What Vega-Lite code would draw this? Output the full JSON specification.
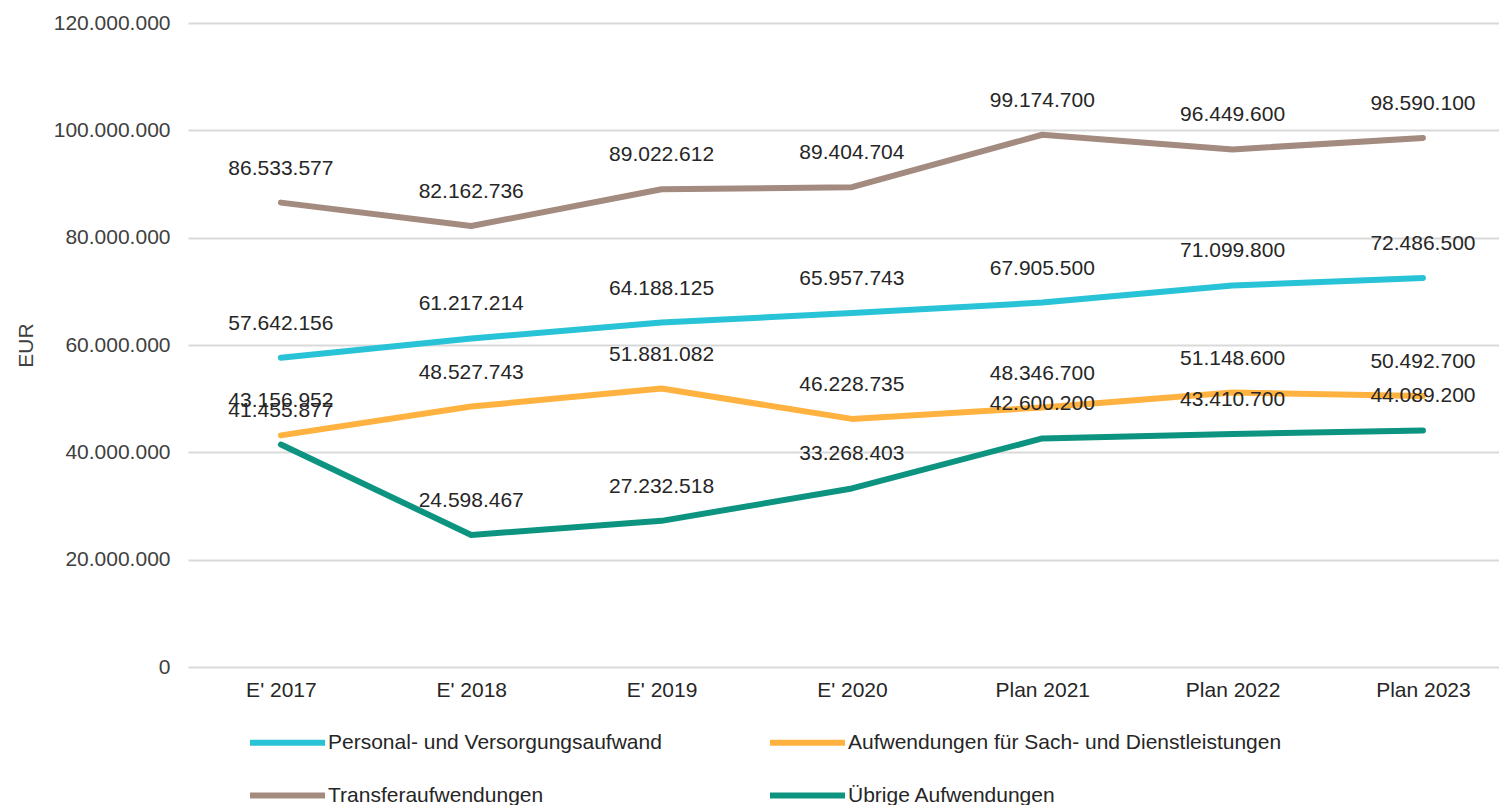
{
  "$schema": "https://vega.github.io/schema/vega-lite/v6.json",
  "width": 1316,
  "height": 644,
  "padding": {"left": 15, "top": 12, "right": 0, "bottom": 0},
  "config": {
    "locale": {"number": {"decimal": ",", "thousands": ".", "grouping": [3], "currency": ["", " €"]}},
    "view": {"stroke": null},
    "font": "Liberation Sans"
  },
  "data": {
    "values": [
      {"jahr": "E' 2017", "reihe": "Personal- und Versorgungsaufwand", "wert": 57642156},
      {"jahr": "E' 2018", "reihe": "Personal- und Versorgungsaufwand", "wert": 61217214},
      {"jahr": "E' 2019", "reihe": "Personal- und Versorgungsaufwand", "wert": 64188125},
      {"jahr": "E' 2020", "reihe": "Personal- und Versorgungsaufwand", "wert": 65957743},
      {"jahr": "Plan 2021", "reihe": "Personal- und Versorgungsaufwand", "wert": 67905500},
      {"jahr": "Plan 2022", "reihe": "Personal- und Versorgungsaufwand", "wert": 71099800},
      {"jahr": "Plan 2023", "reihe": "Personal- und Versorgungsaufwand", "wert": 72486500},
      {"jahr": "E' 2017", "reihe": "Aufwendungen für Sach- und Dienstleistungen", "wert": 43156952},
      {"jahr": "E' 2018", "reihe": "Aufwendungen für Sach- und Dienstleistungen", "wert": 48527743},
      {"jahr": "E' 2019", "reihe": "Aufwendungen für Sach- und Dienstleistungen", "wert": 51881082},
      {"jahr": "E' 2020", "reihe": "Aufwendungen für Sach- und Dienstleistungen", "wert": 46228735},
      {"jahr": "Plan 2021", "reihe": "Aufwendungen für Sach- und Dienstleistungen", "wert": 48346700},
      {"jahr": "Plan 2022", "reihe": "Aufwendungen für Sach- und Dienstleistungen", "wert": 51148600},
      {"jahr": "Plan 2023", "reihe": "Aufwendungen für Sach- und Dienstleistungen", "wert": 50492700},
      {"jahr": "E' 2017", "reihe": "Transferaufwendungen", "wert": 86533577},
      {"jahr": "E' 2018", "reihe": "Transferaufwendungen", "wert": 82162736},
      {"jahr": "E' 2019", "reihe": "Transferaufwendungen", "wert": 89022612},
      {"jahr": "E' 2020", "reihe": "Transferaufwendungen", "wert": 89404704},
      {"jahr": "Plan 2021", "reihe": "Transferaufwendungen", "wert": 99174700},
      {"jahr": "Plan 2022", "reihe": "Transferaufwendungen", "wert": 96449600},
      {"jahr": "Plan 2023", "reihe": "Transferaufwendungen", "wert": 98590100},
      {"jahr": "E' 2017", "reihe": "Übrige Aufwendungen", "wert": 41455877},
      {"jahr": "E' 2018", "reihe": "Übrige Aufwendungen", "wert": 24598467},
      {"jahr": "E' 2019", "reihe": "Übrige Aufwendungen", "wert": 27232518},
      {"jahr": "E' 2020", "reihe": "Übrige Aufwendungen", "wert": 33268403},
      {"jahr": "Plan 2021", "reihe": "Übrige Aufwendungen", "wert": 42600200},
      {"jahr": "Plan 2022", "reihe": "Übrige Aufwendungen", "wert": 43410700},
      {"jahr": "Plan 2023", "reihe": "Übrige Aufwendungen", "wert": 44089200}
    ]
  },
  "encoding": {
    "x": {
      "field": "jahr",
      "type": "ordinal",
      "sort": null,
      "scale": {"type": "point", "padding": 0.457, "align": 0.534},
      "axis": {
        "title": null,
        "labelAngle": 0,
        "ticks": false,
        "domain": false,
        "grid": false,
        "labelFontSize": 21,
        "labelColor": "#262626",
        "labelPadding": 12
      }
    },
    "y": {
      "field": "wert",
      "type": "quantitative",
      "scale": {"domain": [0, 120000000]},
      "axis": {
        "values": [0, 20000000, 40000000, 60000000, 80000000, 100000000, 120000000],
        "format": ",d",
        "labelFontSize": 21,
        "labelColor": "#404040",
        "labelPadding": 18,
        "ticks": false,
        "domain": false,
        "gridColor": "#d9d9d9",
        "gridWidth": 2,
        "title": "EUR",
        "titleFontSize": 21,
        "titleFontWeight": "normal",
        "titleColor": "#404040",
        "titlePadding": 17
      }
    },
    "color": {
      "field": "reihe",
      "type": "nominal",
      "scale": {
        "domain": ["Personal- und Versorgungsaufwand", "Aufwendungen für Sach- und Dienstleistungen", "Transferaufwendungen", "Übrige Aufwendungen"],
        "range": ["#29c3d7", "#ffb240", "#a38b80", "#0d9480"]
      },
      "legend": {
        "orient": "none",
        "legendX": 59,
        "legendY": 679,
        "direction": "horizontal",
        "columns": 2,
        "title": null,
        "symbolType": "stroke",
        "symbolSize": 5625,
        "symbolStrokeWidth": 6,
        "labelFontSize": 21,
        "labelColor": "#262626",
        "labelLimit": 600,
        "labelOffset": 0,
        "columnPadding": 96,
        "rowPadding": -20
      }
    }
  },
  "layer": [
    {"mark": {"type": "line", "strokeWidth": 6, "strokeCap": "round", "strokeJoin": "round"}},
    {
      "mark": {"type": "text", "dy": -34, "fontSize": 21, "baseline": "middle"},
      "encoding": {
        "text": {"field": "wert", "type": "quantitative", "format": ",d"},
        "color": {"value": "#262626"}
      }
    }
  ]
}
